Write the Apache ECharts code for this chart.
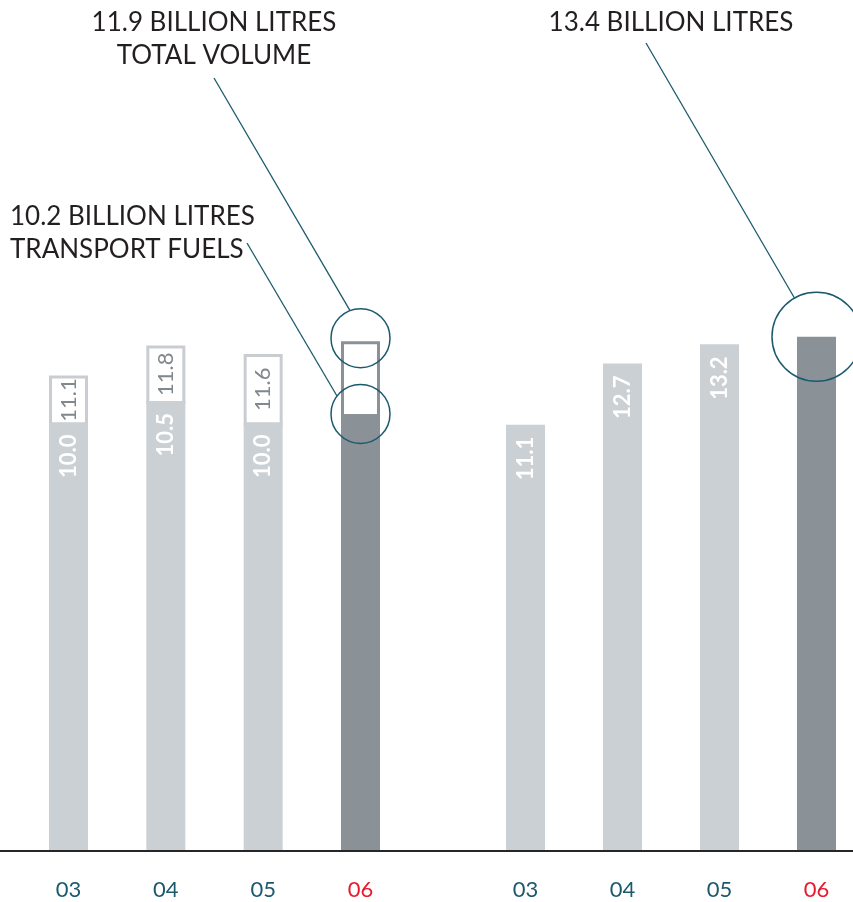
<!DOCTYPE html>
<html><head><meta charset="utf-8">
<script src="https://cdn.jsdelivr.net/npm/echarts@6/dist/echarts.min.js"></script>
<style>html,body{margin:0;padding:0;background:#fff}#c{width:853px;height:902px}</style>
</head><body><div id="c"></div>
<script>
// ---- data ----
const years = ['03', '04', '05', '06'];
const transportFuels = [10.0, 10.5, 10.0, 10.2];   // left group, filled part
const totalVolume = [11.1, 11.8, 11.6, 11.9];      // left group, outlined top
const rightValues = [11.1, 12.7, 13.2, 13.4];      // right group
const highlightYear = '06';

const FONT = 'Lato';
const LIGHT = '#cbd0d4', DARK = '#8a9197';
const TEAL = '#1b5a6e', RED = '#e8192c';

const chart = echarts.init(document.getElementById('c'), null, {renderer: 'canvas'});

function barData(vals) {
  return vals.map((v, i) => ({
    value: v,
    itemStyle: {color: years[i] === highlightYear ? DARK : LIGHT},
    label: {show: years[i] !== highlightYear}
  }));
}

const xAxisCommon = {
  type: 'category', data: years, boundaryGap: false,
  axisLine: {show: false}, axisTick: {show: false}, splitLine: {show: false},
  axisLabel: {
    fontFamily: FONT, fontSize: 22, margin: 40, verticalAlign: 'middle',
    color: (v) => v === highlightYear ? RED : TEAL
  }
};
const yAxisCommon = {type: 'value', min: 0, show: false, splitLine: {show: false}};
const barLabel = {
  show: true, position: 'insideTop', rotate: 90, align: 'right', verticalAlign: 'middle',
  distance: 12, color: '#fff', fontFamily: FONT, fontSize: 22, fontWeight: 'bold'
};

chart.setOption({
  animation: false,
  backgroundColor: '#fff',
  grid: [
    {left: 68.5, width: 292, top: 0, bottom: 52},
    {left: 525.5, width: 291, top: 0, bottom: 52}
  ],
  xAxis: [Object.assign({gridIndex: 0}, xAxisCommon), Object.assign({gridIndex: 1}, xAxisCommon)],
  yAxis: [Object.assign({gridIndex: 0, max: 19.88}, yAxisCommon), Object.assign({gridIndex: 1, max: 22.19}, yAxisCommon)],
  series: [
    {
      type: 'custom', xAxisIndex: 0, yAxisIndex: 0, z: 1, clip: false,
      data: years.map((y, i) => [i, transportFuels[i], totalVolume[i]]),
      encode: {x: 0, y: [1, 2]},
      renderItem(params, api) {
        const i = api.value(0);
        const top = api.coord([i, api.value(2)]);
        const bot = api.coord([i, api.value(1)]);
        const w = 39;
        const lw = 3;
        const dark = years[i] === highlightYear;
        const children = [{
          type: 'rect',
          shape: {x: top[0] - w / 2 + lw / 2, y: top[1] + lw / 2, width: w - lw, height: bot[1] - top[1]},
          style: {fill: '#fff', stroke: dark ? DARK : '#c9cdd1', lineWidth: lw}
        }];
        if (!dark) {
          children.push({
            type: 'text', x: top[0], y: (top[1] + bot[1]) / 2 + 1, rotation: Math.PI / 2,
            style: {text: api.value(2).toFixed(1), fill: '#80878d', font: '22px ' + FONT,
              align: 'center', verticalAlign: 'middle'}
          });
        }
        return {type: 'group', children};
      }
    },
    {
      type: 'bar', xAxisIndex: 0, yAxisIndex: 0, z: 3, barWidth: 39,
      data: barData(transportFuels),
      label: Object.assign({}, barLabel, {formatter: (p) => p.value.toFixed(1)})
    },
    {
      type: 'bar', xAxisIndex: 1, yAxisIndex: 1, z: 3, barWidth: 39,
      data: barData(rightValues),
      label: Object.assign({}, barLabel, {formatter: (p) => p.value.toFixed(1)})
    }
  ]
});

// ---- annotations (callouts) ----
const hi = years.indexOf(highlightYear);
const p0 = chart.convertToPixel({xAxisIndex: 0, yAxisIndex: 0}, [hi, 0]);
const pTotal = chart.convertToPixel({xAxisIndex: 0, yAxisIndex: 0}, [hi, totalVolume[hi]]);
const pTrans = chart.convertToPixel({xAxisIndex: 0, yAxisIndex: 0}, [hi, transportFuels[hi]]);
const pRight = chart.convertToPixel({xAxisIndex: 1, yAxisIndex: 1}, [hi, rightValues[hi]]);

function onCircle(c, r, dx, dy) {
  const m = Math.hypot(dx, dy);
  return [c[0] + r * dx / m, c[1] + r * dy / m];
}
const callouts = [
  {c: [pTotal[0], pTotal[1] - 3], r: 29.5, from: [214, 78], dir: [-11, -29]},
  {c: [pTrans[0], pTrans[1]], r: 29.5, from: [247, 243], dir: [-25, -19]},
  {c: [pRight[0], pRight[1]], r: 44.5, from: [646, 43], dir: [-22.4, -39.3]}
];
const g = [];
callouts.forEach(o => {
  g.push({type: 'circle', shape: {cx: o.c[0], cy: o.c[1], r: o.r}, style: {fill: null, stroke: TEAL, lineWidth: 1.5}, z: 10});
  const e = onCircle(o.c, o.r, o.dir[0], o.dir[1]);
  g.push({type: 'line', shape: {x1: o.from[0], y1: o.from[1], x2: e[0], y2: e[1]}, style: {stroke: TEAL, lineWidth: 1.3}, z: 10});
});
const txt = (s, x, y, align) => ({type: 'text', x, y, z: 10,
  style: {text: s, fill: '#231f20', font: '26px ' + FONT, align, verticalAlign: 'middle'}});
g.push(txt(totalVolume[hi].toFixed(1) + ' BILLION LITRES', 214, 23, 'center'));
g.push(txt('TOTAL VOLUME', 214, 56, 'center'));
g.push(txt(transportFuels[hi].toFixed(1) + ' BILLION LITRES', 10, 217, 'left'));
g.push(txt('TRANSPORT FUELS', 10, 250, 'left'));
g.push(txt(rightValues[hi].toFixed(1) + ' BILLION LITRES', 671, 23, 'center'));
// baseline
g.push({type: 'line', shape: {x1: 0, y1: p0[1] + 1, x2: 853, y2: p0[1] + 1}, style: {stroke: '#262626', lineWidth: 2}, z: 5});
chart.setOption({graphic: g});
</script></body></html>
